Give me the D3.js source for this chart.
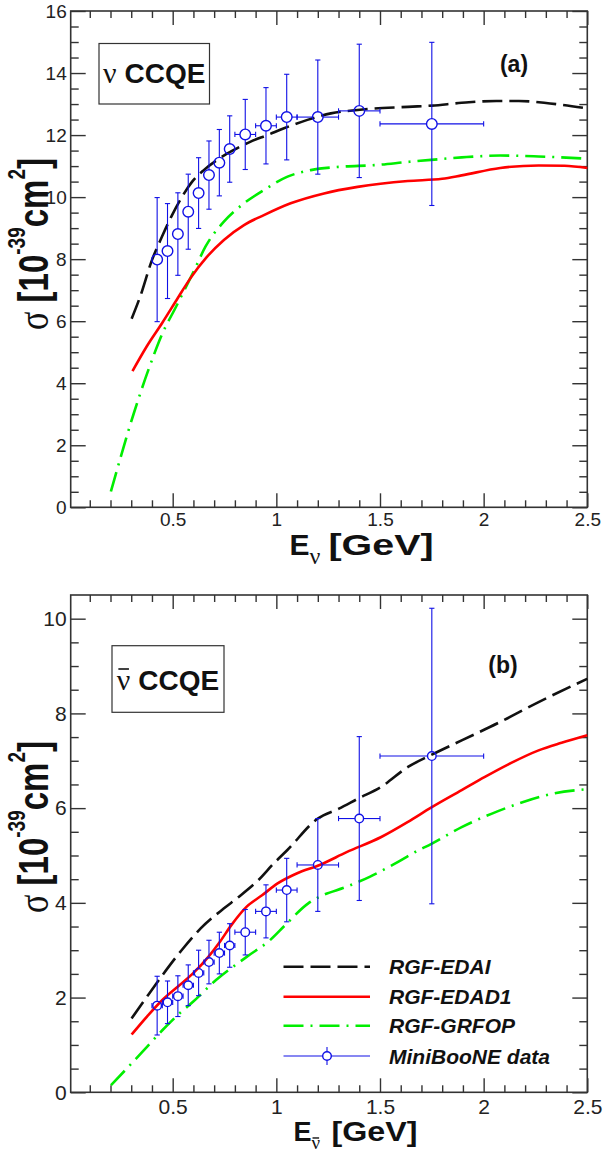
<!DOCTYPE html>
<html>
<head>
<meta charset="utf-8">
<script src="https://cdn.jsdelivr.net/npm/d3@7"></script>
<style>
  html, body { margin: 0; padding: 0; background: #fff; }
  svg { display: block; }
</style>
</head>
<body>
<svg id="chart" width="603" height="1156"></svg>
<script>
// ---------------- DATA ----------------
// MiniBooNE bin centres and half widths [GeV]
const dataEnergy  = [0.425,0.475,0.525,0.575,0.625,0.675,0.725,0.775,0.85,0.95,1.05,1.2,1.4,1.75];
const dataHalfBin = [0.025,0.025,0.025,0.025,0.025,0.025,0.025,0.025,0.05,0.05,0.05,0.1,0.1,0.25];
// panel (a): nu CCQE  [1e-39 cm^2]
const nuSigma = [7.985,8.261,8.809,9.530,10.13,10.71,11.11,11.55,12.02,12.30,12.58,12.58,12.78,12.36];
const nuErr   = [2.0,1.53,1.33,1.21,1.14,1.10,1.07,1.07,1.13,1.23,1.38,1.84,2.15,2.63];
// panel (b): anti-nu CCQE
const nubarSigma = [1.83,1.90,2.03,2.26,2.52,2.75,2.94,3.10,3.38,3.82,4.27,4.80,5.78,7.10];
const nubarErr   = [0.62,0.45,0.43,0.43,0.48,0.46,0.44,0.46,0.48,0.56,0.67,0.98,1.73,3.12];

// panel (a) model curves
const edaiNuE   = [0.302,0.343,0.400,0.448,0.497,0.545,0.594,0.650,0.715,0.795,0.876,0.957,1.037,1.15,1.263,1.392,1.634,1.75,1.894,2.061,2.17,2.32,2.5];
const edaiNu    = [6.08,6.79,7.97,8.72,9.42,10.01,10.5,10.87,11.2,11.52,11.79,12.0,12.22,12.49,12.7,12.81,12.91,12.95,13.04,13.1,13.1,13.02,12.86];
const edad1NuE  = [0.306,0.376,0.45,0.524,0.585,0.666,0.747,0.844,0.940,1.069,1.23,1.392,1.634,1.8,1.894,2.08,2.265,2.39,2.5];
const edad1Nu   = [4.39,5.2,5.95,6.74,7.38,8.08,8.62,9.1,9.42,9.8,10.12,10.33,10.52,10.59,10.7,10.94,11.02,11.01,10.94];
const grfopNuE  = [0.202,0.311,0.385,0.45,0.515,0.569,0.601,0.658,0.747,0.844,0.940,1.054,1.166,1.311,1.473,1.642,1.746,1.894,2.08,2.265,2.5];
const grfopNu   = [0.51,3.0,4.47,5.6,6.45,7.17,7.6,8.4,9.21,9.8,10.23,10.66,10.87,10.98,11.03,11.14,11.2,11.28,11.34,11.31,11.24];

// panel (b) model curves
const edaiNubarE  = [0.302,0.376,0.45,0.543,0.635,0.746,0.82,0.913,0.987,1.052,1.2,1.302,1.394,1.506,1.635,1.746,1.894,2.08,2.265,2.5];
const edaiNubar   = [1.56,2.02,2.47,3.0,3.46,3.88,4.13,4.48,4.83,5.11,5.78,5.99,6.2,6.45,6.87,7.12,7.43,7.82,8.24,8.73];
const edad1NubarE = [0.302,0.376,0.45,0.524,0.598,0.672,0.728,0.783,0.857,0.931,1.006,1.098,1.209,1.339,1.506,1.635,1.746,1.894,2.006,2.117,2.265,2.376,2.5];
const edad1Nubar  = [1.22,1.6,1.95,2.23,2.51,2.86,3.18,3.53,3.92,4.16,4.41,4.62,4.8,5.07,5.39,5.71,6.01,6.38,6.66,6.92,7.22,7.38,7.54];
const grfopNubarE = [0.202,0.302,0.376,0.45,0.524,0.598,0.709,0.857,0.969,1.043,1.154,1.209,1.339,1.45,1.561,1.69,1.746,1.894,2.043,2.191,2.339,2.5];
const grfopNubar  = [0.15,0.61,0.96,1.31,1.63,1.91,2.37,2.86,3.21,3.53,3.99,4.13,4.34,4.55,4.8,5.12,5.24,5.6,5.89,6.13,6.31,6.4];

// ticks
const xMajorTicks = [0.5,1,1.5,2,2.5];
const xMinorTicks = d3.range(1,25).map(i => i/10);
const yMajorTicksA = [0,2,4,6,8,10,12,14,16];
const yMinorTicksA = d3.range(1,32).map(i => i/2);
const yMajorTicksB = [0,2,4,6,8,10];
const yMinorTicksB = d3.range(1,21).map(i => i/2);

const legendLabels = ["RGF-EDAI","RGF-EDAD1","RGF-GRFOP","MiniBooNE data"];

// ---------------- DRAWING ----------------
const svg = d3.select("#chart");
svg.append("rect").attr("width",603).attr("height",1156).attr("fill","#fff");

const SANS = "'Liberation Sans', Arial, Helvetica, sans-serif";
const SERIF = "'Liberation Serif', 'Times New Roman', serif";
const AX = "#333";
const BLUE = "#1010e6";

const X0 = 70.7, X1 = 587.3;
const x = d3.scaleLinear().domain([0.008, 2.5]).range([X0, X1]);

const styles = {
  edai:  {stroke:"#111", dash:"20,7"},
  edad1: {stroke:"#ff0000", dash:null},
  grfop: {stroke:"#00ee00", dash:"20,7,2,7"}
};

function panel(cfg) {
  const y = d3.scaleLinear().domain(cfg.yDomain).range([cfg.yBottom, cfg.yTop]);
  const g = svg.append("g");

  function addAxis(axis, transform, labels) {
    const a = g.append("g").attr("transform", transform).call(axis);
    a.select(".domain").remove();
    a.selectAll(".tick line").attr("stroke", AX).attr("stroke-width", 1.4);
    a.selectAll("text").attr("fill", "#222").attr("font-family", SANS).attr("font-size", cfg.tickFont);
    if (!labels) a.selectAll("text").remove();
    return a;
  }
  const minorX = xMinorTicks.filter(v => !xMajorTicks.includes(v));
  const minorY = cfg.yMinor.filter(v => !cfg.yMajor.includes(v));
  addAxis(d3.axisBottom(x).tickValues(xMajorTicks).tickSize(-14).tickPadding(cfg.xPad).tickFormat(d3.format("~g")), `translate(0,${cfg.yBottom})`, true);
  addAxis(d3.axisBottom(x).tickValues(minorX).tickSize(-7), `translate(0,${cfg.yBottom})`, false);
  addAxis(d3.axisTop(x).tickValues(xMajorTicks).tickSize(-14), `translate(0,${cfg.yTop})`, false);
  addAxis(d3.axisTop(x).tickValues(minorX).tickSize(-7), `translate(0,${cfg.yTop})`, false);
  addAxis(d3.axisLeft(y).tickValues(cfg.yMajor).tickSize(-15).tickPadding(4).tickFormat(d3.format("~g")), `translate(${X0},0)`, true);
  addAxis(d3.axisLeft(y).tickValues(minorY).tickSize(-8), `translate(${X0},0)`, false);
  addAxis(d3.axisRight(y).tickValues(cfg.yMajor).tickSize(-15), `translate(${X1},0)`, false);
  addAxis(d3.axisRight(y).tickValues(minorY).tickSize(-8), `translate(${X1},0)`, false);

  g.append("rect").attr("x", X0).attr("y", cfg.yTop).attr("width", X1 - X0).attr("height", cfg.yBottom - cfg.yTop)
    .attr("fill", "none").attr("stroke", AX).attr("stroke-width", 1.6);

  const line = d3.line().x(d => x(d[0])).y(d => y(d[1])).curve(d3.curveMonotoneX);
  cfg.curves.forEach(c => {
    const st = styles[c.key];
    g.append("path").datum(c.xs.map((v, i) => [v, c.ys[i]]))
      .attr("d", line).attr("fill", "none").attr("stroke", st.stroke)
      .attr("stroke-width", 2.6).attr("stroke-dasharray", st.dash);
  });

  const r = cfg.r, cap = 2.6;
  const dg = g.append("g").attr("stroke", BLUE).attr("stroke-width", 1.1).attr("fill", "none");
  dataEnergy.forEach((e, i) => {
    const cx = x(e), cy = y(cfg.sig[i]);
    const yTopE = y(cfg.sig[i] + cfg.err[i]), yBotE = y(cfg.sig[i] - cfg.err[i]);
    const xl = x(e - dataHalfBin[i]), xr = x(e + dataHalfBin[i]);
    if (cy - r > yTopE) dg.append("line").attr("x1", cx).attr("x2", cx).attr("y1", yTopE).attr("y2", cy - r);
    if (yBotE > cy + r) dg.append("line").attr("x1", cx).attr("x2", cx).attr("y1", cy + r).attr("y2", yBotE);
    dg.append("line").attr("x1", cx - cap).attr("x2", cx + cap).attr("y1", yTopE).attr("y2", yTopE);
    dg.append("line").attr("x1", cx - cap).attr("x2", cx + cap).attr("y1", yBotE).attr("y2", yBotE);
    if (cx - r > xl) {
      dg.append("line").attr("x1", xl).attr("x2", cx - r).attr("y1", cy).attr("y2", cy);
      dg.append("line").attr("x1", cx + r).attr("x2", xr).attr("y1", cy).attr("y2", cy);
      dg.append("line").attr("x1", xl).attr("x2", xl).attr("y1", cy - cap).attr("y2", cy + cap);
      dg.append("line").attr("x1", xr).attr("x2", xr).attr("y1", cy - cap).attr("y2", cy + cap);
    }
    dg.append("circle").attr("cx", cx).attr("cy", cy).attr("r", r).attr("stroke-width", 1.4);
  });

  // label box
  g.append("rect").attr("x", cfg.box[0]).attr("y", cfg.box[1]).attr("width", cfg.box[2]).attr("height", cfg.box[3])
    .attr("fill", "none").attr("stroke", AX).attr("stroke-width", 1.2);
  const bt = g.append("text").attr("x", cfg.box[0] + cfg.box[2] / 2).attr("y", cfg.boxTextY)
    .attr("text-anchor", "middle").attr("font-family", SANS).attr("font-weight", "bold")
    .attr("font-size", 28).attr("fill", "#111");
  bt.append("tspan").attr("font-family", SERIF).attr("font-weight", "normal").attr("font-size", 30).text("ν");
  bt.append("tspan").text(" CCQE");
  if (cfg.bar) {
    const ext = bt.node().getExtentOfChar(0);
    g.append("line").attr("x1", ext.x + 1.5).attr("x2", ext.x + ext.width - 1.5)
      .attr("y1", cfg.boxTextY - 21).attr("y2", cfg.boxTextY - 21).attr("stroke", "#111").attr("stroke-width", 1.6);
  }
  g.append("text").attr("x", cfg.tag[0]).attr("y", cfg.tag[1]).attr("text-anchor", "middle")
    .attr("font-family", SANS).attr("font-weight", "bold").attr("font-size", 23).attr("fill", "#111").text(cfg.tagText);

  // y title (glyphs stretched across like in the reference)
  const yt = g.append("text").attr("transform", `translate(48.3,${cfg.yTitleY}) scale(1.3,1) rotate(-90)`)
    .attr("text-anchor", "middle").attr("font-family", SANS).attr("font-weight", "bold")
    .attr("font-size", 33).attr("fill", "#111");
  yt.append("tspan").attr("font-family", SERIF).attr("font-weight", "normal").attr("font-size", 34).text("σ");
  yt.append("tspan").text(" [10");
  yt.append("tspan").attr("font-size", 19).attr("dy", -18).text("-39");
  yt.append("tspan").attr("dy", 18).text("cm");
  yt.append("tspan").attr("font-size", 19).attr("dy", -18).text("2");
  yt.append("tspan").attr("dy", 18).text("]");

  // x title
  const xt = g.append("text").attr("x", cfg.xTitle[0]).attr("y", cfg.xTitle[1])
    .attr("font-family", SANS).attr("font-weight", "bold").attr("font-size", cfg.xTitleFont).attr("fill", "#111");
  xt.append("tspan").text("E");
  xt.append("tspan").attr("font-family", SERIF).attr("font-weight", "normal").attr("font-size", cfg.subFont).attr("dy", cfg.subDy).text("ν");
  g.append("text").attr("x", cfg.gev[0]).attr("y", cfg.xTitle[1]).attr("textLength", cfg.gev[1]).attr("lengthAdjust", "spacingAndGlyphs")
    .attr("font-family", SANS).attr("font-weight", "bold").attr("font-size", cfg.xTitleFont).attr("fill", "#111").text("[GeV]");
  if (cfg.bar) {
    const ext = xt.node().getExtentOfChar(1);
    const yb = cfg.xTitle[1] + cfg.subDy - cfg.subFont * 0.58;
    g.append("line").attr("x1", ext.x + 1).attr("x2", ext.x + ext.width - 1)
      .attr("y1", yb).attr("y2", yb).attr("stroke", "#111").attr("stroke-width", 1.4);
  }
  return {g, y};
}

panel({
  yDomain: [0, 16], yBottom: 507.3, yTop: 11, yMajor: yMajorTicksA, yMinor: yMinorTicksA,
  tickFont: 19, xPad: 5, r: 5.3,
  sig: nuSigma, err: nuErr,
  curves: [
    {key: "grfop", xs: grfopNuE, ys: grfopNu},
    {key: "edad1", xs: edad1NuE, ys: edad1Nu},
    {key: "edai",  xs: edaiNuE,  ys: edaiNu}
  ],
  box: [99, 43.5, 110.5, 60.5], boxTextY: 83, bar: false,
  tag: [514, 72], tagText: "(a)",
  yTitleY: 244, xTitle: [289.5, 555], xTitleFont: 30, subFont: 24, subDy: 9, gev: [328.5, 105]
});

const pb = panel({
  yDomain: [0, 10.5], yBottom: 1092.3, yTop: 595, yMajor: yMajorTicksB, yMinor: yMinorTicksB,
  tickFont: 21, xPad: 6.5, r: 4.3,
  sig: nubarSigma, err: nubarErr,
  curves: [
    {key: "grfop", xs: grfopNubarE, ys: grfopNubar},
    {key: "edad1", xs: edad1NubarE, ys: edad1Nubar},
    {key: "edai",  xs: edaiNubarE,  ys: edaiNubar}
  ],
  box: [112, 645.7, 112, 66.6], boxTextY: 690, bar: true,
  tag: [503, 673], tagText: "(b)",
  yTitleY: 827, xTitle: [293.5, 1141], xTitleFont: 27, subFont: 19, subDy: 8, gev: [331.5, 86]
});

// legend (panel b)
const legRows = [966.7, 996.7, 1025.7, 1056];
const lg = pb.g.append("g");
const legKeys = ["edai", "edad1", "grfop"];
legKeys.forEach((k, i) => {
  lg.append("line").attr("x1", 283.5).attr("x2", 370).attr("y1", legRows[i]).attr("y2", legRows[i])
    .attr("stroke", styles[k].stroke).attr("stroke-width", 2.6).attr("stroke-dasharray", styles[k].dash);
});
lg.append("line").attr("x1", 283.5).attr("x2", 370).attr("y1", legRows[3]).attr("y2", legRows[3]).attr("stroke", BLUE).attr("stroke-width", 1.1);
lg.append("line").attr("x1", 327).attr("x2", 327).attr("y1", legRows[3] - 9).attr("y2", legRows[3] + 9).attr("stroke", BLUE).attr("stroke-width", 1.1);
lg.append("circle").attr("cx", 327).attr("cy", legRows[3]).attr("r", 4.3).attr("fill", "#fff").attr("stroke", BLUE).attr("stroke-width", 1.4);
legendLabels.forEach((t, i) => {
  lg.append("text").attr("x", 389).attr("y", legRows[i] + 7.5)
    .attr("font-family", SANS).attr("font-weight", "bold").attr("font-style", "italic")
    .attr("font-size", 21).attr("fill", "#111").text(t);
});
</script>
</body>
</html>
